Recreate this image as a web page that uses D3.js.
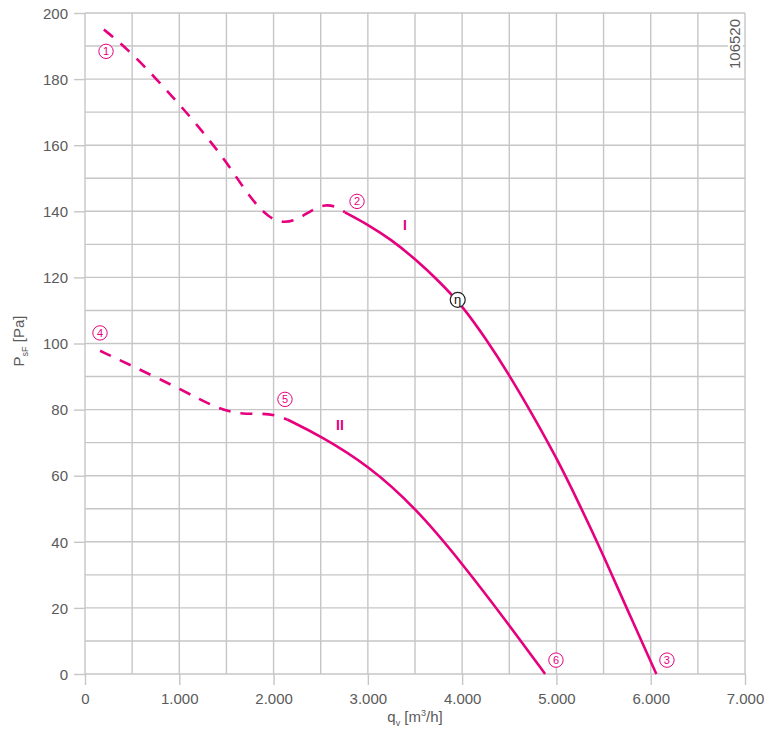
<!DOCTYPE html>
<html><head><meta charset="utf-8">
<script src="https://cdn.jsdelivr.net/npm/d3@7"></script>
<style>
body{margin:0;background:#fff;}
svg{display:block;font-family:"Liberation Sans",Arial,sans-serif;}
</style></head>
<body><svg id="chart" width="772" height="733"></svg>
<script>
// ---- data ----
const xTicks = [0,1000,2000,3000,4000,5000,6000,7000];
const xTickLabels = ["0","1.000","2.000","3.000","4.000","5.000","6.000","7.000"];
const yTicks = [0,20,40,60,80,100,120,140,160,180,200];
const curveIDashed = [[200,195],[500,188],[1000,172.5],[1250,164],[1500,155],[1750,144],[1950,138],[2100,136.4],[2250,137.4],[2400,140.3],[2550,142.2],[2680,141.3],[2757,139.7]];
const curveISolid = [[2757,139.7],[3000,136],[3250,131.4],[3500,125.6],[3750,119],[4000,111.5],[4250,101.5],[4500,90.5],[4750,78.3],[5000,65.5],[5250,51],[5500,35.8],[5750,19.6],[6060,0]];
const curveIIDashed = [[160,97.8],[500,93.2],[1000,86.4],[1400,80.3],[1650,78.6],[1900,78.8],[2000,78.5],[2145,77]];
const curveIISolid = [[2145,77],[2500,72],[3000,63.2],[3500,50.5],[4000,33.5],[4500,14.8],[4880,0]];
const pointLabels = [{t:"1",x:223,y:188.4},{t:"2",x:2885,y:143},{t:"3",x:6172,y:4.2},{t:"4",x:159,y:103.2},{t:"5",x:2121,y:83.1},{t:"6",x:4995,y:4.2}];
const curveNames = [{t:"I",x:3394,y:135.9},{t:"II",x:2704,y:75.3}];
const etaPoint = [3953,113.2];
const drawingNo = "106520";

// ---- chart ----
const svg = d3.select("#chart");
const L=85,R=745,T=13,B=674;
const x = d3.scaleLinear().domain([0,7000]).range([L,R]);
const y = d3.scaleLinear().domain([0,200]).range([B,T]);
const grid="#c6c6c6", mag="#e6007e", txt="#5a5a5a";

// grid
const g = svg.append("g");
g.selectAll(".vg").data(d3.range(0,7001,500)).join("line")
  .attr("x1",d=>x(d)).attr("x2",d=>x(d)).attr("y1",T).attr("y2",B)
  .attr("stroke",grid).attr("stroke-width",1.4);
g.selectAll(".hg").data(d3.range(0,201,10)).join("line")
  .attr("x1",L).attr("x2",R).attr("y1",d=>y(d)).attr("y2",d=>y(d))
  .attr("stroke",grid).attr("stroke-width",1.4);

// axes
const xAxis = d3.axisBottom(x).tickValues(xTicks).tickSize(11).tickPadding(8)
  .tickFormat((d,i)=>xTickLabels[i]);
const yAxis = d3.axisLeft(y).tickValues(yTicks).tickSize(11).tickPadding(6);
const gx = svg.append("g").attr("transform",`translate(0,${B})`).call(xAxis);
const gy = svg.append("g").attr("transform",`translate(${L},0)`).call(yAxis);
[gx,gy].forEach(a=>{
  a.select(".domain").remove();
  a.selectAll(".tick line").attr("stroke",grid).attr("stroke-width",1.4);
  a.selectAll(".tick text").attr("fill",txt).style("font-size","15px")
   .style("font-family","'Liberation Sans',Arial,sans-serif");
});
gy.selectAll(".tick text").attr("dy","0.35em");

// drawing number
const dn = svg.append("g").attr("transform",`translate(740,${T+31}) rotate(-90)`);
dn.append("rect").attr("x",-30).attr("y",-12).attr("width",60).attr("height",15).attr("fill","#fff");
dn.append("text").attr("text-anchor","middle").attr("fill",txt).style("font-size","15px").text(drawingNo);

// curves
const line = d3.line().x(d=>x(d[0])).y(d=>y(d[1])).curve(d3.curveBasis);
function draw(data,dashed){
  svg.append("path").datum(data).attr("d",line).attr("fill","none")
    .attr("stroke",mag).attr("stroke-width",2.6)
    .attr("stroke-dasharray",dashed?"12,10":null);
}
draw(curveIDashed,true); draw(curveISolid,false);
draw(curveIIDashed,true); draw(curveIISolid,false);

// circled labels
const pl = svg.selectAll(".pl").data(pointLabels).join("g")
  .attr("transform",d=>`translate(${x(d.x)},${y(d.y)})`);
pl.append("circle").attr("r",7.2).attr("fill","#fff").attr("stroke",mag).attr("stroke-width",1);
pl.append("text").attr("text-anchor","middle").attr("dy","0.36em").attr("fill",mag)
  .style("font-size","11px").text(d=>d.t);

// curve names
svg.selectAll(".cn").data(curveNames).join("text")
  .attr("x",d=>x(d.x)).attr("y",d=>y(d.y)).attr("text-anchor","middle").attr("dy","0.36em")
  .attr("fill",mag).style("font-size","14px").style("font-weight","bold").text(d=>d.t);

// eta marker
const eg = svg.append("g").attr("transform",`translate(${x(etaPoint[0])},${y(etaPoint[1])})`);
eg.append("circle").attr("r",7.5).attr("fill","#fff").attr("stroke","#222").attr("stroke-width",1.2);
eg.append("text").attr("text-anchor","middle").attr("dy","0.3em").attr("fill","#111")
  .style("font-size","13px").text("η");

// axis titles
const yt = svg.append("text").attr("transform","translate(24,341) rotate(-90)")
  .attr("text-anchor","middle").attr("fill",txt).style("font-size","15px");
yt.append("tspan").text("P");
yt.append("tspan").attr("dy",4).style("font-size","9px").text("sF");
yt.append("tspan").attr("dy",-4).text(" [Pa]");
const xt = svg.append("text").attr("x",415).attr("y",722).attr("text-anchor","middle")
  .attr("fill",txt).style("font-size","15px");
xt.append("tspan").text("q");
xt.append("tspan").attr("dy",4).style("font-size","9px").text("v");
xt.append("tspan").attr("dy",-4).text(" [m");
xt.append("tspan").attr("dy",-6).style("font-size","9px").text("3");
xt.append("tspan").attr("dy",6).text("/h]");
</script></body></html>
